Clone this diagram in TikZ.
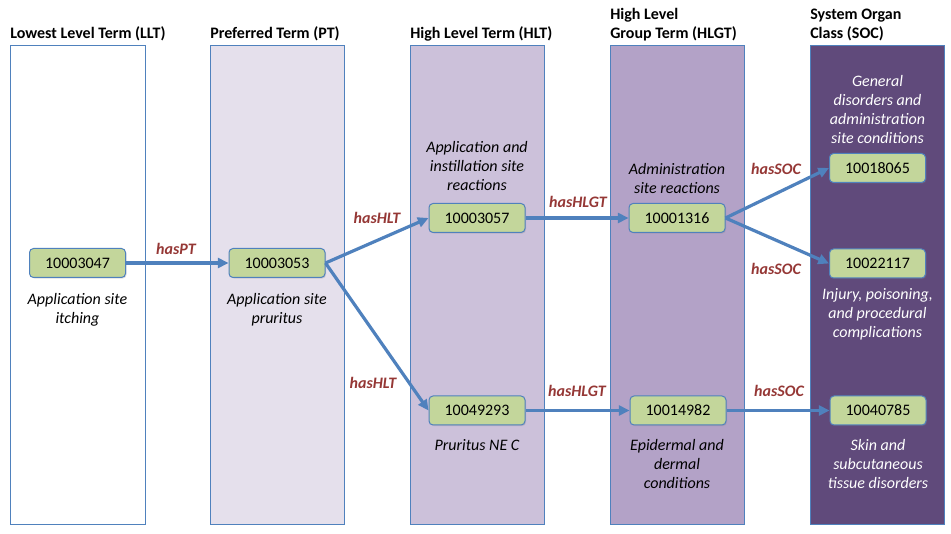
\documentclass[tikz,border=0pt]{standalone}
\usepackage{fontspec}
\setmainfont{Carlito}
\usepackage{xcolor}
\usetikzlibrary{arrows.meta, shadows}
\definecolor{framecol}{HTML}{4F81BD}
\definecolor{ptcol}{HTML}{E5E0EC}
\definecolor{hltcol}{HTML}{CCC1DA}
\definecolor{hlgtcol}{HTML}{B3A2C7}
\definecolor{soccol}{HTML}{604A7B}
\definecolor{codecol}{HTML}{C3D69B}
\definecolor{relcol}{HTML}{953735}
\begin{document}
\begin{tikzpicture}[x=0.75pt, y=-0.75pt,
    column/.style={draw=framecol, line width=0.75pt},
    head/.style={anchor=west, inner sep=0pt, align=left, font=\fontsize{12}{14.25}\selectfont\bfseries},
    code/.style={rectangle, rounded corners=3pt, draw=framecol, line width=0.75pt, fill=codecol,
        minimum width=72pt, minimum height=21.75pt, inner sep=0pt, font=\fontsize{12}{14}\selectfont,
        drop shadow={shadow xshift=0.8pt, shadow yshift=-0.8pt, opacity=0.25}},
    term/.style={align=center, inner sep=0pt, font=\fontsize{12}{14.25}\selectfont\itshape},
    rel/.style={text=relcol, inner sep=0pt, font=\fontsize{12}{14}\selectfont\bfseries\itshape},
    link/.style={draw=framecol, line width=2.4pt, -{Triangle[length=8pt, width=7.5pt]}}]
    \useasboundingbox (0,0) rectangle (951,534);
    % column boxes
    \draw[column, fill=white] (10,46) rectangle (145,525);
    \draw[column, fill=ptcol] (210,46) rectangle (344,525);
    \draw[column, fill=hltcol] (410,46) rectangle (544,525);
    \draw[column, fill=hlgtcol] (610,46) rectangle (744,525);
    \draw[column, fill=soccol] (810,46) rectangle (944,525);
    % column headings
    \node[head] (hllt) at (10,34) {Lowest Level Term (LLT)};
    \node[head] (hpt) at (210,34) {Preferred Term (PT)};
    \node[head] (hhlt) at (410,34) {High Level Term (HLT)};
    \node[head] (hhlgt) at (610,24.5) {High Level\\Group Term (HLGT)};
    \node[head] (hsoc) at (810,24.5) {System Organ\\Class (SOC)};
    % code nodes
    \node[code] (llt1) at (77.5,263) {10003047};
    \node[code] (pt1) at (277,263) {10003053};
    \node[code] (hlt1) at (477,218) {10003057};
    \node[code] (hlt2) at (477,410.5) {10049293};
    \node[code] (hlgt1) at (677,218) {10001316};
    \node[code] (hlgt2) at (678,410.5) {10014982};
    \node[code] (soc1) at (877.5,168) {10018065};
    \node[code] (soc2) at (877.5,263.5) {10022117};
    \node[code] (soc3) at (878,410.5) {10040785};
    % term names
    \node[term] (tllt1) at (77.5,309.5) {Application site\\itching};
    \node[term] (tpt1) at (277,309.5) {Application site\\pruritus};
    \node[term] (thlt1) at (477,166) {Application and\\instillation site\\reactions};
    \node[term] (thlt2) at (477,445) {Pruritus NE C};
    \node[term] (thlgt1) at (677,178.5) {Administration\\site reactions};
    \node[term] (thlgt2) at (677,464) {Epidermal and\\dermal\\conditions};
    \node[term, text=white] (tsoc1) at (877.5,109.5) {General\\disorders and\\administration\\site conditions};
    \node[term, text=white] (tsoc2) at (877.5,314.5) {Injury, poisoning,\\and procedural\\complications};
    \node[term, text=white] (tsoc3) at (878,464) {Skin and\\subcutaneous\\tissue disorders};
    % relations
    \draw[link] (llt1) -- (pt1);
    \draw[link] (pt1.east) -- (hlt1.west);
    \draw[link] (pt1.east) -- (hlt2.west);
    \draw[link] (hlt1) -- (hlgt1);
    \draw[link] (hlt2) -- (hlgt2);
    \draw[link] (hlgt1.east) -- (soc1.west);
    \draw[link] (hlgt1.east) -- (soc2.west);
    \draw[link] (hlgt2) -- (soc3);
    % relation labels
    \node[rel] (rpt) at (176,249) {hasPT};
    \node[rel] (rhlt1) at (377,218) {hasHLT};
    \node[rel] (rhlt2) at (373,383) {hasHLT};
    \node[rel] (rhlgt1) at (578,202) {hasHLGT};
    \node[rel] (rhlgt2) at (577,391) {hasHLGT};
    \node[rel] (rsoc1) at (776,169) {hasSOC};
    \node[rel] (rsoc2) at (776,269) {hasSOC};
    \node[rel] (rsoc3) at (779,391) {hasSOC};
\end{tikzpicture}
\end{document}
